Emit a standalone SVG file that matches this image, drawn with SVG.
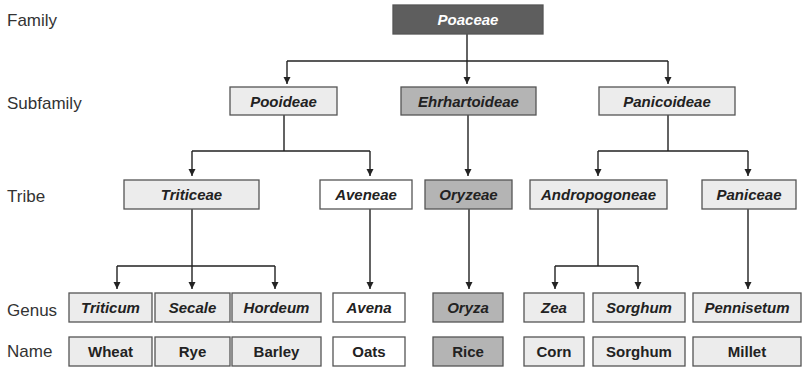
<svg xmlns="http://www.w3.org/2000/svg" width="802" height="367" viewBox="0 0 802 367">
<defs>
<marker id="ah" markerWidth="8" markerHeight="8" refX="7" refY="4" orient="auto" markerUnits="userSpaceOnUse">
<path d="M0,0.5 L7,4 L0,7.5 Z" fill="#222"/>
</marker>
<style>
.lbl{font-family:"Liberation Sans",Arial,sans-serif;font-size:17px;fill:#333}
rect{stroke:#555;stroke-width:1.3}
.lt{fill:#ececec}.wh{fill:#fff}.md{fill:#b4b4b4}.dk{fill:#5e5e5e}
.t{font-family:"Liberation Sans",Arial,sans-serif;font-size:15px;font-weight:bold;font-style:italic;fill:#222;text-anchor:middle}
.n{font-family:"Liberation Sans",Arial,sans-serif;font-size:15px;font-weight:bold;fill:#222;text-anchor:middle}
.w{fill:#fff}
.c{fill:none;stroke:#222;stroke-width:1.4}
</style>
</defs>
<g id="labels">
<text class="lbl" x="7" y="26">Family</text>
<text class="lbl" x="7" y="109">Subfamily</text>
<text class="lbl" x="7" y="202">Tribe</text>
<text class="lbl" x="7" y="316">Genus</text>
<text class="lbl" x="7" y="357">Name</text>
</g>
<g id="connectors">
<path class="c" d="M467,34 V61"/>
<path class="c" d="M287,61 H668"/>
<path class="c" d="M287,61 V84" marker-end="url(#ah)"/>
<path class="c" d="M467,61 V84" marker-end="url(#ah)"/>
<path class="c" d="M668,61 V84" marker-end="url(#ah)"/>
<path class="c" d="M284,115 V151 M192,151 H370"/>
<path class="c" d="M192,151 V176" marker-end="url(#ah)"/>
<path class="c" d="M370,151 V176" marker-end="url(#ah)"/>
<path class="c" d="M468,115 V176" marker-end="url(#ah)"/>
<path class="c" d="M668,115 V151 M598,151 H748"/>
<path class="c" d="M598,151 V176" marker-end="url(#ah)"/>
<path class="c" d="M748,151 V176" marker-end="url(#ah)"/>
<path class="c" d="M192,209 V266 M117,266 H275"/>
<path class="c" d="M117,266 V289" marker-end="url(#ah)"/>
<path class="c" d="M192,266 V289" marker-end="url(#ah)"/>
<path class="c" d="M275,266 V289" marker-end="url(#ah)"/>
<path class="c" d="M370,209 V289" marker-end="url(#ah)"/>
<path class="c" d="M469,209 V289" marker-end="url(#ah)"/>
<path class="c" d="M598,209 V266 M555,266 H638"/>
<path class="c" d="M555,266 V289" marker-end="url(#ah)"/>
<path class="c" d="M638,266 V289" marker-end="url(#ah)"/>
<path class="c" d="M748,209 V289" marker-end="url(#ah)"/>
</g>
<g id="poaceae"><rect class="dk" x="393" y="5" width="150" height="29"/><text class="t w" x="468" y="25">Poaceae</text></g>
<g id="pooideae"><rect class="lt" x="230" y="87" width="107" height="28"/><text class="t" x="283.5" y="106.5">Pooideae</text></g>
<g id="ehrhartoideae"><rect class="md" x="401" y="87" width="135" height="28"/><text class="t" x="468.5" y="106.5">Ehrhartoideae</text></g>
<g id="panicoideae"><rect class="lt" x="599" y="87" width="136" height="28"/><text class="t" x="667" y="106.5">Panicoideae</text></g>
<g id="triticeae"><rect class="lt" x="124" y="180" width="135" height="29"/><text class="t" x="191.5" y="200">Triticeae</text></g>
<g id="aveneae"><rect class="wh" x="320" y="180" width="92" height="29"/><text class="t" x="366" y="200">Aveneae</text></g>
<g id="oryzeae"><rect class="md" x="425" y="180" width="87" height="29"/><text class="t" x="468.5" y="200">Oryzeae</text></g>
<g id="andropogoneae"><rect class="lt" x="530" y="180" width="137" height="29"/><text class="t" x="598.5" y="200">Andropogoneae</text></g>
<g id="paniceae"><rect class="lt" x="702" y="180" width="94" height="29"/><text class="t" x="749" y="200">Paniceae</text></g>
<g id="triticum"><rect class="lt" x="69" y="293" width="83" height="29"/><text class="t" x="110.5" y="313">Triticum</text></g>
<g id="secale"><rect class="lt" x="155" y="293" width="75" height="29"/><text class="t" x="192.5" y="313">Secale</text></g>
<g id="hordeum"><rect class="lt" x="232" y="293" width="89" height="29"/><text class="t" x="276.5" y="313">Hordeum</text></g>
<g id="avena"><rect class="wh" x="333" y="293" width="72" height="29"/><text class="t" x="369" y="313">Avena</text></g>
<g id="oryza"><rect class="md" x="433" y="293" width="70" height="29"/><text class="t" x="468" y="313">Oryza</text></g>
<g id="zea"><rect class="lt" x="524" y="293" width="60" height="29"/><text class="t" x="554" y="313">Zea</text></g>
<g id="sorghum-genus"><rect class="lt" x="593" y="293" width="92" height="29"/><text class="t" x="639" y="313">Sorghum</text></g>
<g id="pennisetum"><rect class="lt" x="693" y="293" width="108" height="29"/><text class="t" x="747" y="313">Pennisetum</text></g>
<g id="wheat"><rect class="lt" x="69" y="337" width="83" height="29"/><text class="n" x="110.5" y="357">Wheat</text></g>
<g id="rye"><rect class="lt" x="155" y="337" width="75" height="29"/><text class="n" x="192.5" y="357">Rye</text></g>
<g id="barley"><rect class="lt" x="232" y="337" width="89" height="29"/><text class="n" x="276.5" y="357">Barley</text></g>
<g id="oats"><rect class="wh" x="333" y="337" width="72" height="29"/><text class="n" x="369" y="357">Oats</text></g>
<g id="rice"><rect class="md" x="433" y="337" width="70" height="29"/><text class="n" x="468" y="357">Rice</text></g>
<g id="corn"><rect class="lt" x="524" y="337" width="60" height="29"/><text class="n" x="554" y="357">Corn</text></g>
<g id="sorghum-name"><rect class="lt" x="593" y="337" width="92" height="29"/><text class="n" x="639" y="357">Sorghum</text></g>
<g id="millet"><rect class="lt" x="693" y="337" width="108" height="29"/><text class="n" x="747" y="357">Millet</text></g>
</svg>
